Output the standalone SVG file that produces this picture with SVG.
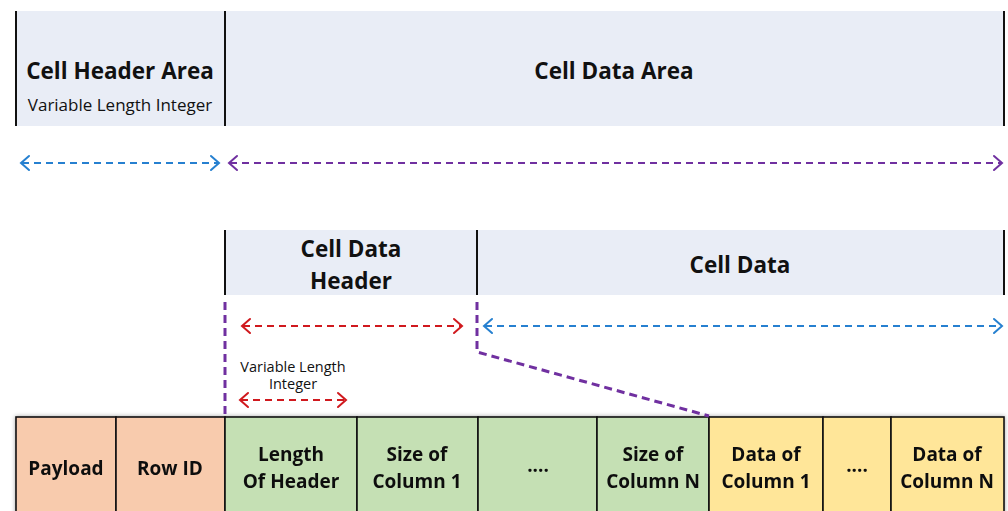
<svg xmlns="http://www.w3.org/2000/svg" width="1008" height="511" viewBox="0 0 1008 511">
  <defs>
    <style>
      .band { fill: #E9EDF6; }
      .edge { stroke: #111; stroke-width: 2; }
      .cell { stroke: #111; stroke-width: 1.6; }
      .t { font-family: "Open Sans", "Noto Sans", sans-serif; fill: #111; text-anchor: middle; }
      .big { font-size: 22.5px; font-weight: 700; }
      .mid { font-size: 19px; font-weight: 700; }
      .sub { font-size: 17px; }
      .small { font-size: 14.5px; }
      .dash { fill: none; stroke-width: 2; stroke-dasharray: 7 5; }
      .guide { fill: none; stroke-width: 3; stroke-dasharray: 8 5; }
      .blue { stroke: #2680D0; }
      .purple { stroke: #7030A0; }
      .red { stroke: #D0191E; }
      .head { fill: none; stroke-width: 2; stroke-linecap: round; stroke-linejoin: miter; }
    </style>
    <filter id="shadow" x="-5%" y="-20%" width="110%" height="140%">
      <feDropShadow dx="0" dy="0" stdDeviation="2" flood-color="#000" flood-opacity="0.35"/>
    </filter>
  </defs>

  <!-- Top band: cell header area / cell data area -->
  <g id="cell-header-area">
    <rect class="band" x="16" y="11" width="209" height="115"/>
    <line class="edge" x1="16" y1="11" x2="16" y2="126"/>
    <text class="t big" x="120" y="79">Cell Header Area</text>
    <text class="t sub" x="120" y="111">Variable Length Integer</text>
  </g>
  <g id="cell-data-area">
    <rect class="band" x="225" y="11" width="779" height="115"/>
    <line class="edge" x1="225" y1="11" x2="225" y2="126"/>
    <line class="edge" x1="1004" y1="11" x2="1004" y2="126"/>
    <text class="t big" x="614" y="79">Cell Data Area</text>
  </g>

  <!-- Second band: cell data header / cell data -->
  <g id="cell-data-header">
    <rect class="band" x="225" y="230" width="252" height="65"/>
    <line class="edge" x1="225" y1="230" x2="225" y2="295"/>
    <text class="t big" x="351" y="257">Cell Data</text>
    <text class="t big" x="351" y="289">Header</text>
  </g>
  <g id="cell-data">
    <rect class="band" x="477" y="230" width="527" height="65"/>
    <line class="edge" x1="477" y1="230" x2="477" y2="295"/>
    <line class="edge" x1="1004" y1="230" x2="1004" y2="295"/>
    <text class="t big" x="740" y="273">Cell Data</text>
  </g>

  <g id="varint-label">
    <text class="t small" x="293" y="372">Variable Length</text>
    <text class="t small" x="293" y="389">Integer</text>
  </g>

  <!-- Record cells -->
  <g id="record" filter="url(#shadow)">
    <g id="payload">
      <rect class="cell" x="16" y="417" width="100" height="100" fill="#F8CBAD"/>
      <text class="t mid" x="66" y="475">Payload</text>
    </g>
    <g id="row-id">
      <rect class="cell" x="116" y="417" width="109" height="100" fill="#F8CBAD"/>
      <text class="t mid" x="170" y="475">Row ID</text>
    </g>
    <g id="length-of-header">
      <rect class="cell" x="225" y="417" width="132" height="100" fill="#C5E0B4"/>
      <text class="t mid" x="291" y="461">Length</text>
      <text class="t mid" x="291" y="488">Of Header</text>
    </g>
    <g id="size-col-1">
      <rect class="cell" x="357" y="417" width="121" height="100" fill="#C5E0B4"/>
      <text class="t mid" x="417" y="461">Size of</text>
      <text class="t mid" x="417" y="488">Column 1</text>
    </g>
    <g id="size-ellipsis">
      <rect class="cell" x="478" y="417" width="119" height="100" fill="#C5E0B4"/>
      <text class="t mid" x="538" y="472">....</text>
    </g>
    <g id="size-col-n">
      <rect class="cell" x="597" y="417" width="112" height="100" fill="#C5E0B4"/>
      <text class="t mid" x="653" y="461">Size of</text>
      <text class="t mid" x="653" y="488">Column N</text>
    </g>
    <g id="data-col-1">
      <rect class="cell" x="709" y="417" width="114" height="100" fill="#FFE699"/>
      <text class="t mid" x="766" y="461">Data of</text>
      <text class="t mid" x="766" y="488">Column 1</text>
    </g>
    <g id="data-ellipsis">
      <rect class="cell" x="823" y="417" width="68" height="100" fill="#FFE699"/>
      <text class="t mid" x="857" y="472">....</text>
    </g>
    <g id="data-col-n">
      <rect class="cell" x="891" y="417" width="113" height="100" fill="#FFE699"/>
      <text class="t mid" x="947" y="461">Data of</text>
      <text class="t mid" x="947" y="488">Column N</text>
    </g>
  </g>

  <!-- Span arrows and guide lines -->
  <g id="connectors">
    <!-- header area span -->
    <line class="dash blue" x1="22" y1="163" x2="218" y2="163"/>
    <polyline class="head blue" points="29,156 21,163 29,170"/>
    <polyline class="head blue" points="211,156 219,163 211,170"/>
    <!-- data area span -->
    <line class="dash purple" x1="230" y1="163" x2="1001" y2="163"/>
    <polyline class="head purple" points="237,156 229,163 237,170"/>
    <polyline class="head purple" points="994,156 1002,163 994,170"/>

    <!-- cell data header span -->
    <line class="dash red" x1="243" y1="326" x2="461" y2="326"/>
    <polyline class="head red" points="250,319 242,326 250,333"/>
    <polyline class="head red" points="454,319 462,326 454,333"/>
    <!-- cell data span -->
    <line class="dash blue" x1="485" y1="326" x2="1001" y2="326"/>
    <polyline class="head blue" points="492,319 484,326 492,333"/>
    <polyline class="head blue" points="994,319 1002,326 994,333"/>

    <!-- varint span -->
    <line class="dash red" x1="241" y1="400" x2="345" y2="400"/>
    <polyline class="head red" points="248,393 240,400 248,407"/>
    <polyline class="head red" points="338,393 346,400 338,407"/>

    <!-- guide lines down to the record -->
    <line class="guide purple" x1="225" y1="302" x2="225" y2="416"/>
    <polyline class="guide purple" points="477,302 477,352 709,416"/>
  </g>
</svg>
